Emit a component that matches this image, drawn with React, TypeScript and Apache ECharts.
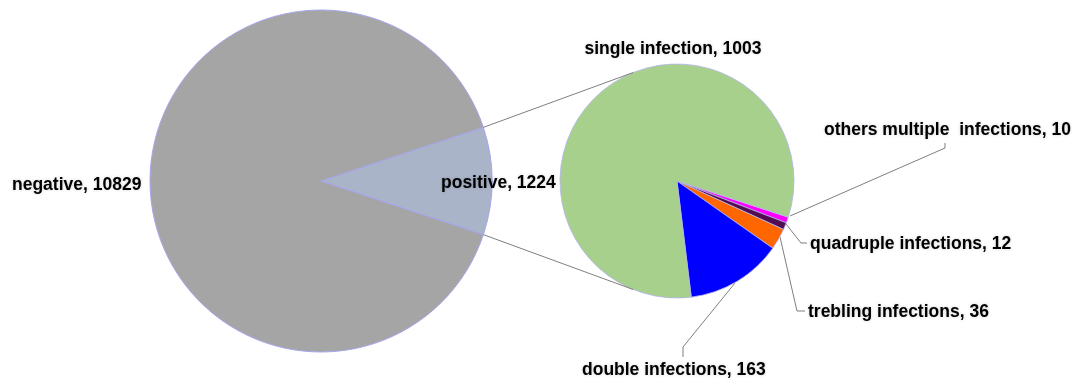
import React, { useEffect, useRef } from "react";
import * as echarts from "echarts";

// ---- data ----
const mainNames = ["positive", "negative"];
const mainValues = [1224, 10829];
const subNames = [
  "others multiple  infections",
  "quadruple infections",
  "trebling infections",
  "double infections",
  "single infection",
];
const subValues = [10, 12, 36, 163, 1003];

// ---- styling / layout (not data) ----
const mainColors = ["#a9b4c8", "#a5a5a5"];
const subColors = ["#ff00ff", "#520c52", "#ff6600", "#0000ff", "#a8d08d"];
const MAIN_C = [321, 181];
const MAIN_R = 171;
const SUB_C = [677, 181];
const SUB_R = 117;
const SUB_START = -18;
const CONNECT_ANGLE = 112;

// label placement per series/data index
const mainLabelPos: any[] = [
  { x: 441, y: 182, align: "left" },
  { x: 12, y: 184, align: "left" },
];
const subLabelPos: any[] = [
  { x: 824, y: 129, align: "left", line: [[790, 216], [945, 148], [945, 143]] },
  { x: 810, y: 243, align: "left", line: [[786, 224], [801, 243], [807, 243]] },
  { x: 808, y: 311, align: "left", line: [[780, 237], [797, 311], [805, 311]] },
  { x: 582, y: 369, align: "left", line: [[735, 283], [683, 347], [683, 357]] },
  { x: 673, y: 48, align: "center" },
];

export default function App() {
  const ref = useRef<HTMLDivElement>(null);
  useEffect(() => {
    if (!ref.current) return;
    const chart = echarts.init(ref.current, null, { renderer: "svg" });
    const total = mainValues.reduce((a, b) => a + b, 0);
    const half = (180 * mainValues[0]) / total;
    const rad = (d: number) => (d * Math.PI) / 180;
    const pt = (c: number[], r: number, a: number) => [
      c[0] + r * Math.cos(rad(a)),
      c[1] - r * Math.sin(rad(a)),
    ];
    const mTop = pt(MAIN_C, MAIN_R, half);
    const mBot = pt(MAIN_C, MAIN_R, -half);
    const sTop = pt(SUB_C, SUB_R, CONNECT_ANGLE);
    const sBot = pt(SUB_C, SUB_R, -CONNECT_ANGLE);

    const textStyle = {
      fontFamily: "Liberation Sans, Arial, sans-serif",
      fontWeight: "bold",
      fontSize: 17.5,
      color: "#000",
      textShadowColor: "rgba(0,0,0,0.18)",
      textShadowBlur: 3,
      formatter: "{b}, {c}",
    };

    const option: any = {
      animation: false,
      backgroundColor: "#ffffff",
      series: [
        {
          type: "pie",
          center: MAIN_C,
          radius: [0, MAIN_R],
          startAngle: half,
          clockwise: true,
          avoidLabelOverlap: false,
          silent: true,
          itemStyle: { borderColor: "#a6a6ee", borderWidth: 1 },
          label: { show: true, position: "outside", ...textStyle },
          labelLine: { show: false },
          data: mainNames.map((n, i) => ({
            name: n,
            value: mainValues[i],
            itemStyle: { color: mainColors[i] },
          })),
          labelLayout: (p: any) => {
            const pos = mainLabelPos[p.dataIndex];
            return { x: pos.x, y: pos.y, align: pos.align, verticalAlign: "middle" };
          },
        },
        {
          type: "pie",
          center: SUB_C,
          radius: [0, SUB_R],
          startAngle: SUB_START,
          clockwise: true,
          avoidLabelOverlap: false,
          silent: true,
          itemStyle: { borderColor: "#b4b4ee", borderWidth: 0.8 },
          label: { show: true, position: "outside", ...textStyle },
          labelLine: {
            show: true,
            length: 10,
            length2: 10,
            lineStyle: { color: "#7f7f7f", width: 1 },
          },
          data: subNames.map((n, i) => ({
            name: n,
            value: subValues[i],
            itemStyle: { color: subColors[i] },
            labelLine: { show: !!subLabelPos[i].line },
          })),
          labelLayout: (p: any) => {
            const pos = subLabelPos[p.dataIndex];
            const r: any = { x: pos.x, y: pos.y, align: pos.align, verticalAlign: "middle" };
            if (pos.line) r.labelLinePoints = pos.line;
            return r;
          },
        },
      ],
      graphic: [
        {
          type: "line",
          silent: true,
          shape: { x1: mTop[0], y1: mTop[1], x2: sTop[0], y2: sTop[1] },
          style: { stroke: "#7f7f7f", lineWidth: 1 },
          z: 10,
        },
        {
          type: "line",
          silent: true,
          shape: { x1: mBot[0], y1: mBot[1], x2: sBot[0], y2: sBot[1] },
          style: { stroke: "#7f7f7f", lineWidth: 1 },
          z: 10,
        },
      ],
    };
    chart.setOption(option);
    return () => chart.dispose();
  }, []);
  return (
    <div
      ref={ref}
      style={{ position: "fixed", left: 0, top: 0, width: 1084, height: 391 }}
    />
  );
}
